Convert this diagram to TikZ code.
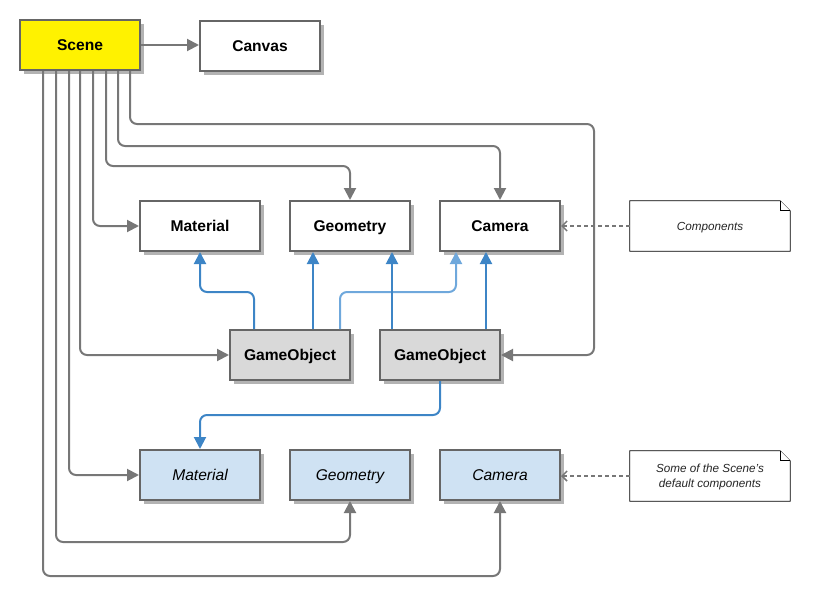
\documentclass[tikz,border=0pt]{standalone}
\usepackage{fontspec}
\setmainfont{Liberation Sans}
\usetikzlibrary{shadows,arrows.meta,calc}
\definecolor{bordergray}{HTML}{666666}
\definecolor{linegray}{HTML}{777777}
\definecolor{shadowgray}{HTML}{B3B3B3}
\definecolor{bluel}{HTML}{3D85C6}
\definecolor{bluelight}{HTML}{6FA8DC}
\definecolor{fillblue}{HTML}{CFE2F3}
\tikzset{
  box/.style={draw=bordergray, line width=2pt, fill=white, minimum width=120pt, minimum height=50pt,
    inner sep=0pt, text height=11.2pt, text depth=0pt, font=\fontsize{15.6}{18}\selectfont\bfseries,
    drop shadow={shadow xshift=4pt, shadow yshift=-4pt, fill=shadowgray, opacity=1}},
  scenebox/.style={box, fill=yellow},
  gobox/.style={box, fill=black!15},
  defbox/.style={box, fill=fillblue, font=\fontsize{15.6}{18}\selectfont\itshape},
  noteshape/.style={minimum width=160pt, minimum height=50pt, inner sep=0pt},
  notetext/.style={inner sep=0pt, align=center,
    font=\fontsize{11.7}{14.5}\selectfont\itshape, text=black!85},
  notefold/.style={draw=black, line width=0.8pt, fill=white},
  conn/.style={draw=linegray, line width=2pt, rounded corners=7pt,
    -{Triangle[length=12pt,width=12pt]}},
  bconn/.style={draw=bluel, line width=2pt, rounded corners=7pt,
    -{Triangle[length=12pt,width=12pt]}},
  nconn/.style={draw=linegray, line width=1.5pt, dash pattern=on 4pt off 3pt,
    -{Straight Barb[length=5pt,width=10pt]}},
}
\begin{document}
\begin{tikzpicture}[x=1pt,y=-1pt]
\useasboundingbox (0,0) rectangle (815,600);

% nodes
\node[scenebox] (scene) at (80,45) {Scene};
\node[box] (canvas) at (260,46) {Canvas};
\node[box] (mat) at (200,226) {Material};
\node[box] (geo) at (350,226) {Geometry};
\node[box] (cam) at (500,226) {Camera};
\node[gobox] (go1) at (290,355) {GameObject};
\node[gobox] (go2) at (440,355) {GameObject};
\node[defbox] (bmat) at (200,475) {Material};
\node[defbox] (bgeo) at (350,475) {Geometry};
\node[defbox] (bcam) at (500,475) {Camera};

% notes
\node[noteshape] (n1) at (710,226) {};
\draw[notefold] (n1.south west) -- (n1.north west) -- ($(n1.north east)+(-10,0)$) -- ($(n1.north east)+(0,10)$) -- (n1.south east) -- cycle;
\draw[notefold] ($(n1.north east)+(-10,0)$) -- ($(n1.north east)+(-10,10)$) -- ($(n1.north east)+(0,10)$);
\node[notetext, text height=8.4pt, text depth=0pt] at (n1.center) {Components};
\node[noteshape] (n2) at (710,476) {};
\draw[notefold] (n2.south west) -- (n2.north west) -- ($(n2.north east)+(-10,0)$) -- ($(n2.north east)+(0,10)$) -- (n2.south east) -- cycle;
\draw[notefold] ($(n2.north east)+(-10,0)$) -- ($(n2.north east)+(-10,10)$) -- ($(n2.north east)+(0,10)$);
\node[notetext] at ($(n2.center)+(0,1)$) {Some of the Scene's\\default components};

\draw[nconn] (n1.west) -- (cam.east);
\draw[nconn] (n2.west) -- (n2.west -| bcam.east);

% scene connectors
\draw[conn] (scene.east) -- (scene.east -| canvas.west);
\draw[conn] ($(scene.south)+(50,0)$) |- (594,124) |- (go2.east);
\draw[conn] ($(scene.south)+(38,0)$) |- (500,146) -- (cam.north);
\draw[conn] ($(scene.south)+(26,0)$) |- (350,166) -- (geo.north);
\draw[conn] ($(scene.south)+(13,0)$) |- (mat.west);
\draw[conn] ($(scene.south)+(0,0)$) |- (go1.west);
\draw[conn] ($(scene.south)+(-11,0)$) |- (bmat.west);
\draw[conn] ($(scene.south)+(-24,0)$) |- (350,542) -- (bgeo.south);
\draw[conn] ($(scene.south)+(-37,0)$) |- (500,576) -- (bcam.south);

% blue connectors
\draw[bconn, draw=bluelight] ($(go1.north)+(50,0)$) -- (340,292) -- (456,292) -- ($(cam.south)+(-44,0)$);
\draw[bconn] ($(go1.north)+(-36,0)$) -- (254,292) -- (200,292) -- (mat.south);
\draw[bconn] ($(go1.north)+(23,0)$) -- ($(geo.south)+(-37,0)$);
\draw[bconn] ($(go2.north)+(-48,0)$) -- ($(geo.south)+(42,0)$);
\draw[bconn] ($(go2.north)+(46,0)$) -- ($(cam.south)+(-14,0)$);
\draw[bconn] (go2.south) -- (440,415) -- (200,415) -- (bmat.north);
\end{tikzpicture}
\end{document}
